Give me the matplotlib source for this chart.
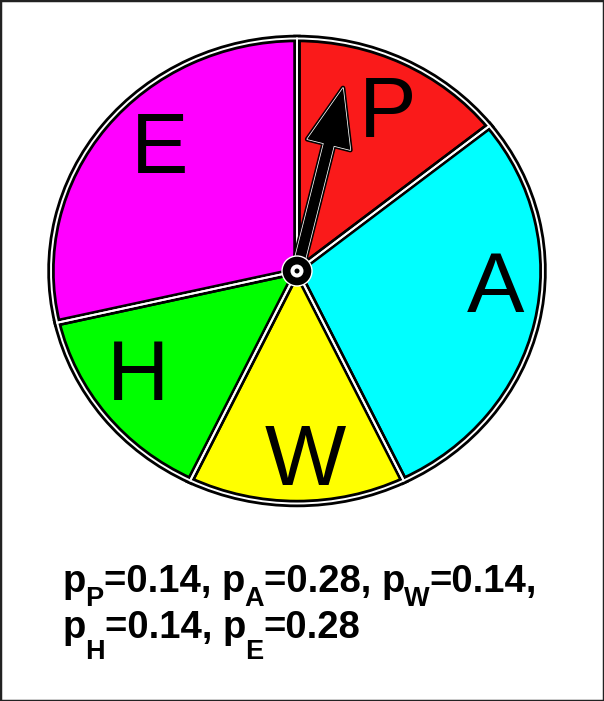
import matplotlib
matplotlib.use('Agg')
import matplotlib.pyplot as plt
import matplotlib.patheffects as pe
from matplotlib.patches import FancyArrowPatch, Ellipse, Rectangle
from matplotlib.text import Annotation
from matplotlib.transforms import ScaledTranslation

# spinner data
names = ['P', 'A', 'W', 'H', 'E']
probs = [0.14, 0.28, 0.14, 0.14, 0.28]
colors = ['#fa1a1a', '#00ffff', '#ffff00', '#00ff00', '#ff00ff']
prob_labels = ['0.14', '0.28', '0.14', '0.14', '0.28']

RX, RY = 246.0, 232.5   # pie radius in pixels (slightly elliptical)
CX, CY = 297.0, 271.0   # pie centre in pixels (from top-left)
W, H = 604, 701
LIM = 1.1

fig = plt.figure(figsize=(W / 100, H / 100), dpi=100)
aw, ah = 2 * LIM * RX, 2 * LIM * RY
ax = fig.add_axes([(CX - aw / 2) / W, (H - CY - ah / 2) / H, aw / W, ah / H])

wedges, texts = ax.pie(probs, labels=names, colors=colors, startangle=90,
                       counterclock=False, labeldistance=0.78,
                       wedgeprops=dict(edgecolor='black', linewidth=5.4),
                       textprops=dict(fontsize=62, family='Liberation Sans',
                                      color='black'))
# small nudges of the slice letters (pixels, x right / y up)
nudges = [(7, 2), (12, 30), (8, -2), (-9, 15), (13, 16)]
for t, (dx, dy) in zip(texts, nudges):
    t.set_ha('center'); t.set_va('center_baseline')
    t.set_transform(t.get_transform() + ScaledTranslation(dx / 100, dy / 100, fig.dpi_scale_trans))
# white inner line of the double outline
ax.pie(probs, startangle=90, counterclock=False,
       wedgeprops=dict(facecolor='none', edgecolor='white', linewidth=1.4))

# pointer arrow
arrow = FancyArrowPatch((0, 0), (0.187, 0.787),
                        arrowstyle='simple,head_length=42,head_width=32,tail_width=7.5',
                        mutation_scale=1, shrinkA=0, shrinkB=0,
                        facecolor='black', edgecolor='none', linewidth=0, zorder=5)
arrow.set_path_effects([pe.Stroke(linewidth=3.4, foreground='black'),
                        pe.Stroke(linewidth=1.1, foreground='white'),
                        pe.Normal()])
ax.add_patch(arrow)

# hub
hub = Ellipse((0, 0), 2 * 15 / RX, 2 * 15 / RY, facecolor='black',
              edgecolor='white', linewidth=1.0, zorder=6)
ax.add_patch(hub)
ax.add_patch(Ellipse((0, 0), 2 * 6.5 / RX, 2 * 6.5 / RY, facecolor='white',
                     edgecolor='none', zorder=7))
ax.add_patch(Ellipse((0, 0), 2 * 2.5 / RX, 2 * 2.5 / RY, facecolor='black',
                     edgecolor='none', zorder=8))

ax.set_aspect('auto')
ax.set_xlim(-LIM, LIM)
ax.set_ylim(-LIM, LIM)
ax.axis('off')

# probability caption, built piece by piece (big dropped subscripts)
big = dict(fontsize=27.5, fontweight='bold', family='Liberation Sans')
small = dict(fontsize=19.5, fontweight='bold', family='Liberation Sans')
lines = [[0, 1, 2], [3, 4]]
baselines = [H - 592, H - 638]   # figure pixels
drops = [14, 21]
for li, idx in enumerate(lines):
    yb = baselines[li]
    prev = None
    for k, i in enumerate(idx):
        if prev is None:
            pch = fig.text(63 / W, yb / H, 'p', va='baseline', ha='left', **big)
        else:
            pch = fig.add_artist(Annotation(
                'p', xy=(1, yb), xycoords=(prev, 'figure pixels'),
                xytext=(0, 0), textcoords='offset pixels',
                va='baseline', ha='left', **big))
        sub = fig.add_artist(Annotation(
            names[i], xy=(1, yb), xycoords=(pch, 'figure pixels'),
            xytext=(-1, -drops[li]), textcoords='offset pixels',
            va='baseline', ha='left', **small))
        last_item = k == len(idx) - 1
        tail = ',' if (li == 0 or not last_item) else ''
        tail += '' if last_item else ' '
        prev = fig.add_artist(Annotation(
            '=' + prob_labels[i] + tail, xy=(1, yb), xycoords=(sub, 'figure pixels'),
            xytext=(0, 0), textcoords='offset pixels',
            va='baseline', ha='left', **big))

fig.add_artist(Rectangle((0, 0), 1, 1, transform=fig.transFigure, fill=False,
                         edgecolor='#222222', linewidth=2.5))

plt.savefig('out.png', dpi=100)
plt.close()
